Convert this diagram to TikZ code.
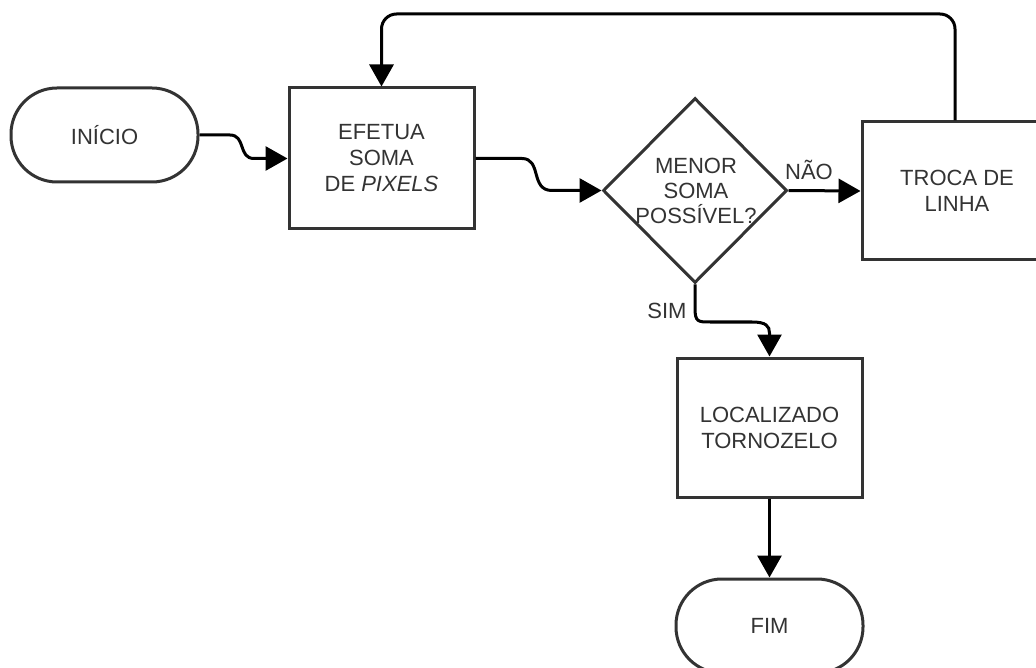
\documentclass[tikz,border=0pt]{standalone}
\usepackage{fontspec}
\setmainfont{Liberation Sans}
\usetikzlibrary{arrows.meta,shapes.geometric}
\definecolor{bd}{HTML}{333333}
\definecolor{tx}{HTML}{333333}
\begin{document}
\begin{tikzpicture}[x=1pt,y=-1pt,
  box/.style={draw=bd,line width=3pt,fill=white,minimum width=185pt,minimum height=139pt,inner sep=0pt,align=center,text=tx,font=\fontsize{22}{26}\selectfont},
  term/.style={box,rounded corners=46pt,minimum height=94pt,minimum width=187pt},
  dia/.style={diamond,draw=bd,line width=3pt,fill=white,minimum width=184pt,minimum height=185pt,inner sep=0pt},
  txt/.style={text=tx,align=center,inner sep=0pt,font=\fontsize{22}{25}\selectfont},
  conn/.style={line width=3pt,draw=black,-{Triangle[length=22pt,width=24pt]}},
  lbl/.style={text=tx,inner sep=0pt,font=\fontsize{22}{26}\selectfont}]
\clip (0,0) rectangle (1036,668);
\fill[white] (0,0) rectangle (1036,668);
\node[term] (ini) at (104.5,135) {INÍCIO};
\node[box,minimum height=141pt] (ef) at (381.5,158.5) {EFETUA\\SOMA\\DE \textit{PIXELS}};
\node[dia] (d) at (695,190.5) {};
\node[txt] (dt) at (696,191) {MENOR\\SOMA\\POSSÍVEL?};
\node[box,minimum width=186pt,minimum height=138pt] (tr) at (955,191) {\hspace*{4pt}TROCA DE\\\hspace*{4pt}LINHA};
\node[box] (loc) at (769.5,427.5) {LOCALIZADO\\TORNOZELO};
\node[term] (fim) at (769.5,626) {FIM};
\coordinate (tl) at (381.5,14);
\coordinate (tr2) at (955,14);
\node[lbl] (nao) at (809,170) {NÃO};
\node[lbl] (sim) at (667,311) {SIM};
\draw[conn] (ini.east) -- (230,135) .. controls (246,135) and (238,158.5) .. (254,158.5) -- (ef.west);
\draw[conn] (ef.east) -- (522,158.5) .. controls (542,158.5) and (530,190.5) .. (552,190.5) -- (d.west);
\draw[conn] (d.east) -- (tr.west);
\draw[conn] (d.south) -- (695,308) .. controls (695,322) and (698,322) .. (710,322) -- (752,322) .. controls (766,322) and (769.5,326) .. (769.5,333) -- (loc.north);
\draw[conn] (loc.south) -- (fim.north);
\draw[conn,rounded corners=15pt] (tr.north) -- (tr2) -- (tl) -- (ef.north);
\end{tikzpicture}
\end{document}
